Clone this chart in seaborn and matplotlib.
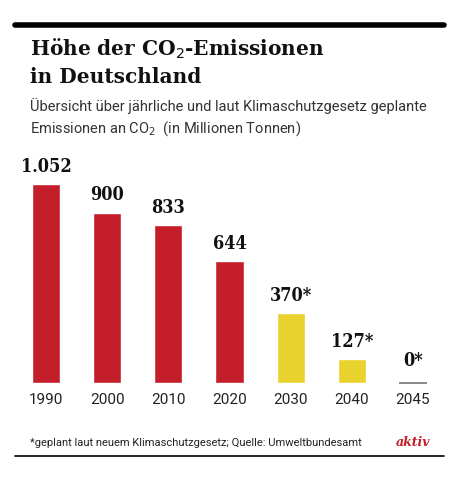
import matplotlib
matplotlib.use("Agg")
import matplotlib.pyplot as plt
import seaborn as sns
import pandas as pd
from matplotlib.lines import Line2D

# data
years = ["1990", "2000", "2010", "2020", "2030", "2040", "2045"]
emissions = [1052, 900, 833, 644, 370, 127, 0]
value_labels = ["1.052", "900", "833", "644", "370*", "127*", "0*"]
kind = ["Ist", "Ist", "Ist", "Ist", "Plan", "Plan", "Plan"]

df = pd.DataFrame({"Jahr": years, "Emissionen": emissions, "Art": kind})

sns.set_style("white")
plt.rcParams["font.family"] = ["Roboto", "DejaVu Sans"]

red = "#c41e2a"
yellow = "#e9d22e"

W, H = 459, 480
fig = plt.figure(figsize=(W / 100, H / 100), dpi=100)
fig.patch.set_facecolor("white")

# axes placed in pixel terms: baseline at y=383, tallest bar top at y=184
ax = fig.add_axes([15.4 / W, (H - 383) / H, 428.2 / W, 199 / H])
sns.barplot(data=df, x="Jahr", y="Emissionen", hue="Art",
            palette={"Ist": red, "Plan": yellow}, width=0.46,
            dodge=False, legend=False, ax=ax, saturation=1)
ax.set_ylim(0, 1052)
ax.set_xlim(-0.5, len(years) - 0.5)
ax.set_xlabel("")
ax.set_ylabel("")
ax.set_yticks([])
for s in ax.spines.values():
    s.set_visible(False)
ax.tick_params(axis="x", length=0, pad=7, labelsize=11, colors="#222222")

# zero value shown as thin grey line
for i, v in enumerate(emissions):
    if v == 0:
        ax.hlines(0, i - 0.23, i + 0.23, color="#777777", lw=1.2, clip_on=False)

for i, (v, lab) in enumerate(zip(emissions, value_labels)):
    ax.annotate(lab, (i, v), xytext=(0, 6 if v > 0 else 9), textcoords="offset points",
                ha="center", va="bottom", fontsize=13, fontweight="bold",
                family="DejaVu Serif", fontstretch="condensed", color="#111111",
                annotation_clip=False)

# header
fig.add_artist(Line2D([15 / W, 444 / W], [1 - 25 / H, 1 - 25 / H], color="black", lw=4))
for txt, y in [("Höhe der CO$_2$-Emissionen", 56), ("in Deutschland", 83)]:
    fig.text(30 / W, 1 - y / H, txt, ha="left", va="baseline", fontsize=14.5,
             fontweight="bold", family="DejaVu Serif", color="#111111")
sub = ["Übersicht über jährliche und laut Klimaschutzgesetz geplante",
       "Emissionen an CO$_2$  (in Millionen Tonnen)"]
for txt, y in zip(sub, [111, 133]):
    fig.text(30 / W, 1 - y / H, txt, ha="left", va="baseline", fontsize=10.5,
             fontweight="normal", color="#333333")

# footer
fig.text(30 / W, 1 - 446 / H, "*geplant laut neuem Klimaschutzgesetz; Quelle: Umweltbundesamt",
         ha="left", va="baseline", fontsize=8.0, color="#222222")
fig.text(430 / W, 1 - 446 / H, "aktiv", ha="right", va="baseline", fontsize=9,
         fontweight="bold", style="italic", family="DejaVu Serif", color=red)
fig.add_artist(Line2D([15 / W, 444 / W], [1 - 456 / H, 1 - 456 / H], color="black", lw=1.2))

fig.savefig("out.png", dpi=100, facecolor="white")
